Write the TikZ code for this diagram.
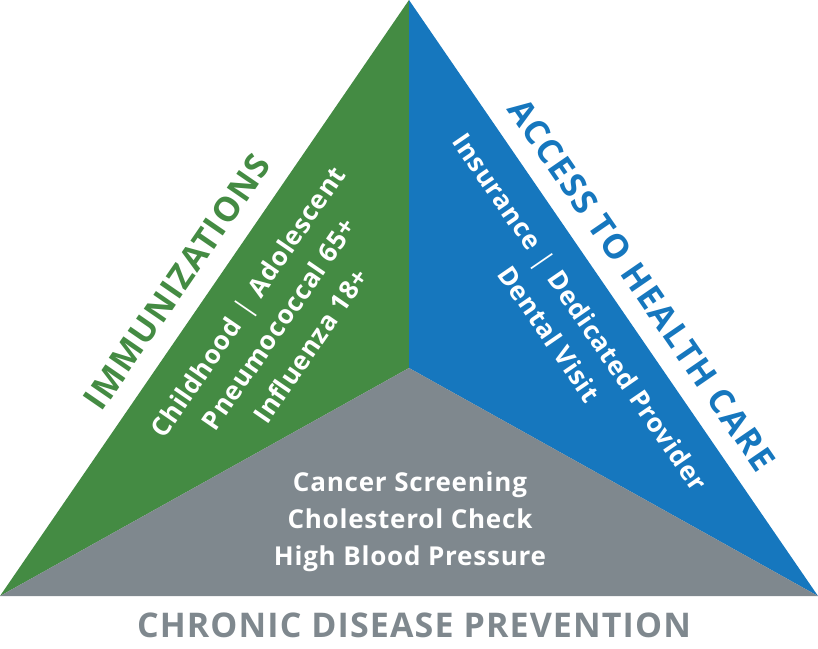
\documentclass[tikz,border=0pt]{standalone}
\usepackage{fontspec}
\setmainfont{Open Sans}
\newfontfamily\bodyfont[LetterSpace=3]{Open Sans}
\newfontfamily\chrfont[LetterSpace=3.3]{Open Sans}
\newfontfamily\immfont[LetterSpace=3.7]{Open Sans}
\newfontfamily\accfont[LetterSpace=5.1]{Open Sans}
\definecolor{tgreen}{HTML}{448B43}
\definecolor{tblue}{HTML}{1677BE}
\definecolor{tgray}{HTML}{7F888E}
\newcommand{\vbar}{\hspace{9pt}{\mdseries|}\hspace{9pt}}
\begin{document}
\begin{tikzpicture}[x=1pt,y=-1pt,
  body/.style={text=white,font=\bodyfont\bfseries\fontsize{26}{30}\selectfont,
    inner sep=0pt,text height=18.5pt,text depth=0pt},
  title/.style={inner sep=0pt,text height=24.3pt,text depth=0pt}]
\useasboundingbox (0,0) rectangle (818,648);
\coordinate (A) at (409,0);
\coordinate (L) at (0,596);
\coordinate (R) at (818,596);
\coordinate (C) at (409,368);
\fill[tgreen] (A) -- (L) -- (C) -- cycle;
\fill[tblue] (A) -- (C) -- (R) -- cycle;
\fill[tgray] (L) -- (C) -- (R) -- cycle;
% left
\node[title,font=\immfont\bfseries\fontsize{34}{40}\selectfont,text=tgreen,rotate=55.5] (imm) at (177,282) {IMMUNIZATIONS};
\node[body,rotate=55.5] (l1) at (248,302) {Childhood\vbar Adolescent};
\node[body,rotate=55.5] (l2) at (279,324) {Pneumococcal 65+};
\node[body,rotate=55.5] (l3) at (311,346) {Influenza 18+};
% right
\node[title,font=\accfont\bfseries\fontsize{34}{40}\selectfont,text=tblue,rotate=-55.5] (acc) at (642,285) {ACCESS TO HEALTH CARE};
\node[body,rotate=-55.5] (r1) at (580,312) {Insurance\vbar Dedicated Provider};
\node[body,rotate=-55.5] (r2) at (549,334) {Dental Visit};
% bottom
\node[body] (b1) at (410,482.5) {Cancer Screening};
\node[body] (b2) at (410,519.5) {Cholesterol Check};
\node[body] (b3) at (410,556) {High Blood Pressure};
\node[title,font=\chrfont\bfseries\fontsize{34}{40}\selectfont,text=tgray] (chr) at (414,625.3) {CHRONIC DISEASE PREVENTION};
\end{tikzpicture}
\end{document}
